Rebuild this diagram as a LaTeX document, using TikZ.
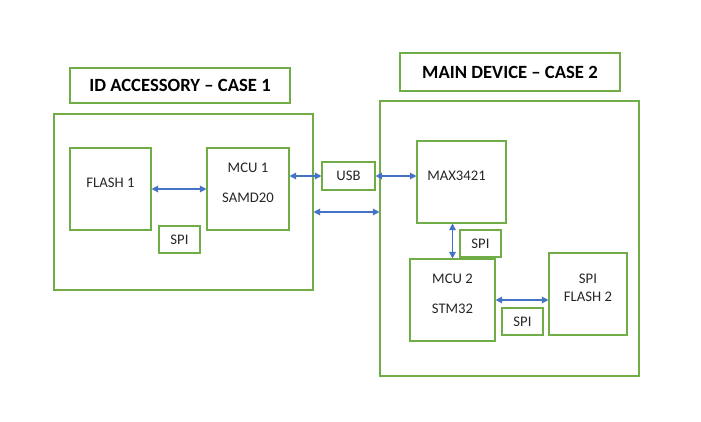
\documentclass[tikz,border=0pt]{standalone}
\usepackage{fontspec}
\setmainfont{Carlito}
\usepackage{tikz}
\usetikzlibrary{arrows.meta}

\definecolor{boxgreen}{HTML}{70AD47}
\definecolor{linkblue}{HTML}{4472C4}
\definecolor{textgray}{HTML}{262626}

\begin{document}
\begin{tikzpicture}[x=0.75pt, y=-0.75pt,
        box/.style={draw=boxgreen, line width=0.8pt, inner sep=0pt, text=textgray,
                    font=\fontsize{11pt}{13.5pt}\selectfont},
        title/.style={box, text=black, font=\fontsize{14pt}{17pt}\selectfont\bfseries},
        link/.style={draw=linkblue, line width=0.9pt,
                     {Triangle[length=5pt,width=5pt]}-{Triangle[length=5pt,width=5pt]}},
        txt/.style={yshift=4.5pt, align=center, text=textgray,
                    font=\fontsize{11pt}{13.5pt}\selectfont}]
            \useasboundingbox (0,0) rectangle (701,422);

            % titles
            \node (acctitle) at (180,85.5) [title, minimum width=165pt, minimum height=26.25pt] {ID ACCESSORY -- CASE 1};
            \node (maintitle) at (510,72) [title, minimum width=165pt, minimum height=28.5pt] {MAIN DEVICE -- CASE 2};

            % outer cases
            \node (acc) at (183.5,202) [box, minimum width=194.25pt, minimum height=132pt] {};
            \node (main) at (509.5,238.5) [box, minimum width=194.25pt, minimum height=206.25pt] {};

            % accessory
            \node (flash1) at (110.5,189) [box, minimum width=60.75pt, minimum height=61.5pt,
                label={[txt]center:FLASH 1}] {};
            \node (mcu1) at (248,189) [box, minimum width=61.5pt, minimum height=61.5pt,
                label={[txt]center:{MCU 1\\[9pt]SAMD20}}] {};
            \node (spi1) at (179.5,239.5) [box, minimum width=30.75pt, minimum height=20.25pt] {SPI};
            \node (usb) at (348.5,176) [box, minimum width=39.75pt, minimum height=21pt] {USB};

            % main device
            \node (max) at (461.5,182) [box, minimum width=66.75pt, minimum height=61.5pt,
                label={[txt, xshift=-3.75pt]center:MAX3421}] {};
            \node (spi2) at (480.5,243.5) [box, minimum width=30.75pt, minimum height=20.25pt] {SPI};
            \node (mcu2) at (452.5,300) [box, minimum width=63.75pt, minimum height=61.5pt,
                label={[txt]center:{MCU 2\\[9pt]STM32}}] {};
            \node (flash2) at (588,294) [box, minimum width=58.5pt, minimum height=61.5pt,
                label={[txt]center:{SPI\\FLASH 2}}] {};
            \node (spi3) at (522.5,321.5) [box, minimum width=30.75pt, minimum height=20.25pt] {SPI};

            \draw[link] (flash1.east) -- (mcu1.west);
            \draw[link] (usb.west -| mcu1.east) -- (usb.west);
            \draw[link] (usb.east) -- (usb.east -| max.west);
            \draw[link] ([yshift=-7.5pt]acc.east) -- ([yshift=-7.5pt]acc.east -| main.west);
            \draw[link] (mcu2.north |- max.south) -- (mcu2.north);
            \draw[link] (mcu2.east) -- (mcu2.east -| flash2.west);
        \end{tikzpicture}
\end{document}
